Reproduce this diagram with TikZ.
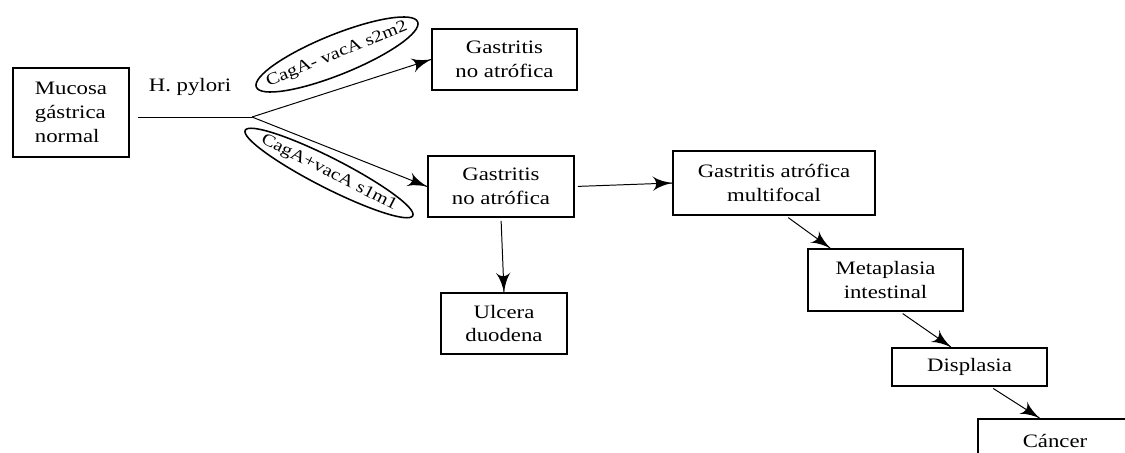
\documentclass[tikz,border=0pt]{standalone}
\usepackage{fontspec}
\setmainfont{Liberation Serif}[FakeStretch=1.2]
\usetikzlibrary{arrows}
\usetikzlibrary{decorations.markings}
\usetikzlibrary{shapes.geometric}
\tikzset{flow/.style = {line width=0.7pt,
                        decoration={markings,
                                    mark=at position 1 with {\arrow[scale=2.8]{latex'}}},
                        postaction={decorate}}}
\tikzset{stage/.style={rectangle, draw, line width=1.4pt, align=center, inner sep=0pt}}
\tikzset{strain/.style={ellipse, draw, line width=1.1pt, inner sep=0pt,
                        font=\fontsize{12}{14}\selectfont}}
\begin{document}
\begin{tikzpicture}[x=0.025cm, y=-0.025cm, font=\fontsize{13.5}{17}\selectfont]
      \useasboundingbox (0, 0) rectangle (1125, 453);
      \clip (0, 0) rectangle (1125, 453);

      \node [stage, align=left, minimum width=2.9cm, minimum height=2.225cm] (mucosa) at (71, 112.5) {Mucosa\\gástrica\\normal};
      \node [stage, minimum width=3.625cm, minimum height=1.525cm] (gastA) at (504.5, 59.5) {Gastritis\\no atrófica};
      \node [stage, minimum width=3.65cm, minimum height=1.525cm] (gastB) at (501, 186.5) {Gastritis\\no atrófica};
      \node [stage, minimum width=3.15cm, minimum height=1.525cm] (ulcera) at (504, 323.5) {Ulcera\\duodena};
      \node [stage, minimum width=5.05cm, minimum height=1.6cm] (atrofica) at (774, 183) {Gastritis atrófica\\multifocal};
      \node [stage, minimum width=3.875cm, minimum height=1.55cm] (metaplasia) at (885.5, 280) {Metaplasia\\intestinal};
      \node [stage, minimum width=3.875cm, minimum height=0.95cm] (displasia) at (969.5, 367) {Displasia};
      \node [stage, minimum width=3.85cm, minimum height=1.1cm] (cancer) at (1055, 441) {Cáncer};

      \node (hp) at (190, 87) {H. pylori};
      \coordinate (fork) at (252, 117);
      \node [strain, rotate=22, minimum width=4.35cm, minimum height=1cm] (neg) at (337, 54.5) {\makebox[0pt]{CagA- vacA s2m2}};
      \node [strain, rotate=-27, minimum width=4.7cm, minimum height=0.75cm] (pos) at (329, 173) {\makebox[0pt]{CagA+vacA s1m1}};

      \draw [line width=0.7pt, shorten <=6pt] (mucosa.east |- fork) -- (fork);
      \draw [flow] (fork) -- (gastA.west);
      \draw [flow] (fork) -- (gastB.west);
      \draw [flow, shorten <=2pt] (gastB.east) -- (atrofica.west);
      \draw [flow, shorten <=2pt] (gastB.south) -- (ulcera.north);
      \draw [flow, shorten <=2pt] (atrofica.290) -- (metaplasia.150);
      \draw [flow, shorten <=2pt] (metaplasia.295) -- (displasia.133);
      \draw [flow, shorten <=2pt] (displasia.317) -- (cancer.124);
    \end{tikzpicture}
\end{document}
